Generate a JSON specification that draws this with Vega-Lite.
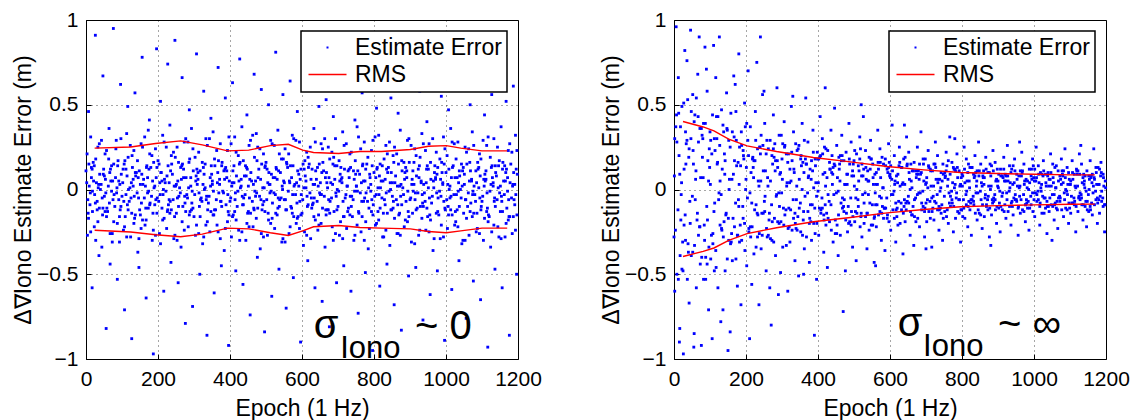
{
"$schema": "https://vega.github.io/schema/vega-lite/v6.json",
"background": "white",
"padding": {"left": 12, "top": 8, "right": 2, "bottom": 0},
"spacing": 58,
"config": {
  "font": "Liberation Sans",
  "view": {"stroke": "black", "strokeWidth": 1},
  "axis": {"labelFont": "Liberation Sans", "labelFontSize": 21, "labelColor": "black", "labelFlush": false, "labelOverlap": false, "titleFont": "Liberation Sans", "titleFontSize": 23, "titleFontWeight": "normal", "titleColor": "black", "domain": false, "ticks": true, "tickColor": "black", "tickSize": -5, "tickWidth": 1, "grid": true, "gridColor": "#000000", "gridDash": [1, 4], "gridWidth": 1, "gridOpacity": 0.7},
  "axisX": {"labelPadding": 14, "titlePadding": 8},
  "axisY": {"labelPadding": 13, "titlePadding": 1},
  "legend": {"strokeWidth": 1.5}
},
"datasets": {
"a": [
{"x":2,"y":0.04},{"x":5,"y":-0.06},{"x":8,"y":0.15},{"x":4,"y":-0.27},{"x":7,"y":0.46},
{"x":12,"y":-0.02},{"x":15,"y":0.07},{"x":18,"y":-0.13},{"x":13,"y":0.31},{"x":17,"y":-0.58},
{"x":21,"y":0.05},{"x":24,"y":-0.03},{"x":27,"y":0.18},{"x":23,"y":-0.22},{"x":26,"y":0.91},
{"x":31,"y":-0.07},{"x":34,"y":0.01},{"x":37,"y":-0.11},{"x":33,"y":0.25},{"x":36,"y":-0.39},
{"x":42,"y":0.03},{"x":45,"y":-0.05},{"x":48,"y":0.09},{"x":44,"y":-0.34},{"x":47,"y":0.67},
{"x":51,"y":-0.04},{"x":54,"y":0.06},{"x":57,"y":-0.16},{"x":53,"y":0.21},{"x":56,"y":-0.82},
{"x":62,"y":0.02},{"x":65,"y":-0.08},{"x":68,"y":0.12},{"x":64,"y":0.36},{"x":67,"y":-0.44},
{"x":71,"y":-0.01},{"x":74,"y":0.05},{"x":77,"y":-0.19},{"x":73,"y":-0.26},{"x":76,"y":0.95},
{"x":82,"y":0.07},{"x":85,"y":-0.02},{"x":88,"y":0.14},{"x":84,"y":0.29},{"x":87,"y":-0.53},
{"x":91,"y":-0.06},{"x":94,"y":0.03},{"x":97,"y":-0.1},{"x":93,"y":-0.31},{"x":96,"y":0.62},
{"x":102,"y":0.04},{"x":105,"y":-0.07},{"x":108,"y":0.17},{"x":104,"y":-0.24},{"x":107,"y":-0.71},
{"x":111,"y":-0.03},{"x":114,"y":0.08},{"x":117,"y":-0.12},{"x":113,"y":0.33},{"x":116,"y":0.49},
{"x":122,"y":0.01},{"x":125,"y":-0.05},{"x":128,"y":0.2},{"x":124,"y":-0.28},{"x":127,"y":-0.88},
{"x":131,"y":0.06},{"x":134,"y":-0.04},{"x":137,"y":-0.15},{"x":133,"y":0.23},{"x":136,"y":0.57},
{"x":142,"y":-0.02},{"x":145,"y":0.07},{"x":148,"y":0.11},{"x":144,"y":-0.37},{"x":147,"y":-0.46},
{"x":151,"y":0.03},{"x":154,"y":-0.08},{"x":157,"y":-0.18},{"x":153,"y":0.27},{"x":156,"y":0.78},
{"x":162,"y":-0.05},{"x":165,"y":0.02},{"x":168,"y":0.13},{"x":164,"y":-0.21},{"x":167,"y":-0.64},
{"x":171,"y":0.07},{"x":174,"y":-0.01},{"x":177,"y":-0.09},{"x":173,"y":0.35},{"x":176,"y":0.41},
{"x":182,"y":-0.04},{"x":185,"y":0.05},{"x":188,"y":0.16},{"x":184,"y":-0.3},{"x":187,"y":-0.97},
{"x":191,"y":0.02},{"x":194,"y":-0.06},{"x":197,"y":-0.14},{"x":193,"y":0.24},{"x":196,"y":0.83},
{"x":202,"y":-0.07},{"x":205,"y":0.04},{"x":208,"y":0.1},{"x":204,"y":-0.26},{"x":207,"y":0.52},
{"x":211,"y":0.05},{"x":214,"y":-0.03},{"x":217,"y":-0.17},{"x":213,"y":0.32},{"x":216,"y":-0.6},
{"x":222,"y":-0.01},{"x":225,"y":0.08},{"x":228,"y":0.14},{"x":224,"y":-0.23},{"x":227,"y":0.74},
{"x":231,"y":0.04},{"x":234,"y":-0.07},{"x":237,"y":-0.12},{"x":233,"y":0.38},{"x":236,"y":-0.43},
{"x":242,"y":-0.06},{"x":245,"y":0.02},{"x":248,"y":0.19},{"x":244,"y":-0.29},{"x":247,"y":0.88},
{"x":251,"y":0.03},{"x":254,"y":-0.05},{"x":257,"y":-0.1},{"x":253,"y":0.25},{"x":256,"y":-0.55},
{"x":262,"y":-0.02},{"x":265,"y":0.06},{"x":268,"y":0.15},{"x":264,"y":-0.34},{"x":267,"y":0.66},
{"x":271,"y":0.07},{"x":274,"y":-0.04},{"x":277,"y":-0.13},{"x":273,"y":0.28},{"x":276,"y":-0.79},
{"x":282,"y":-0.05},{"x":285,"y":0.01},{"x":288,"y":0.18},{"x":284,"y":-0.22},{"x":287,"y":0.47},
{"x":291,"y":0.02},{"x":294,"y":-0.08},{"x":297,"y":-0.11},{"x":293,"y":0.36},{"x":296,"y":-0.69},
{"x":302,"y":-0.03},{"x":305,"y":0.05},{"x":308,"y":0.12},{"x":304,"y":-0.27},{"x":307,"y":0.8},
{"x":311,"y":0.06},{"x":314,"y":-0.02},{"x":317,"y":-0.16},{"x":313,"y":0.22},{"x":316,"y":-0.5},
{"x":322,"y":-0.07},{"x":325,"y":0.03},{"x":328,"y":0.09},{"x":324,"y":-0.32},{"x":327,"y":0.58},
{"x":331,"y":0.01},{"x":334,"y":-0.06},{"x":337,"y":-0.19},{"x":333,"y":0.3},{"x":336,"y":-0.86},
{"x":342,"y":-0.04},{"x":345,"y":0.07},{"x":348,"y":0.14},{"x":344,"y":-0.25},{"x":347,"y":0.42},
{"x":351,"y":0.05},{"x":354,"y":-0.01},{"x":357,"y":-0.12},{"x":353,"y":0.34},{"x":356,"y":-0.61},
{"x":362,"y":-0.06},{"x":365,"y":0.04},{"x":368,"y":0.17},{"x":364,"y":-0.21},{"x":367,"y":0.72},
{"x":371,"y":0.03},{"x":374,"y":-0.07},{"x":377,"y":-0.1},{"x":373,"y":0.27},{"x":376,"y":-0.45},
{"x":382,"y":-0.02},{"x":385,"y":0.06},{"x":388,"y":0.13},{"x":384,"y":-0.36},{"x":387,"y":0.54},
{"x":391,"y":0.07},{"x":394,"y":-0.03},{"x":397,"y":-0.15},{"x":393,"y":0.23},{"x":396,"y":-0.92},
{"x":402,"y":-0.05},{"x":405,"y":0.02},{"x":408,"y":0.11},{"x":404,"y":-0.28},{"x":407,"y":0.63},
{"x":411,"y":0.04},{"x":414,"y":-0.06},{"x":417,"y":-0.18},{"x":413,"y":0.31},{"x":416,"y":-0.48},
{"x":422,"y":-0.01},{"x":425,"y":0.05},{"x":428,"y":0.16},{"x":424,"y":-0.24},{"x":427,"y":0.77},
{"x":431,"y":0.06},{"x":434,"y":-0.04},{"x":437,"y":-0.09},{"x":433,"y":0.37},{"x":436,"y":-0.56},
{"x":442,"y":-0.03},{"x":445,"y":0.08},{"x":448,"y":0.12},{"x":444,"y":-0.3},{"x":447,"y":0.44},
{"x":451,"y":0.02},{"x":454,"y":-0.05},{"x":457,"y":-0.14},{"x":453,"y":0.26},{"x":456,"y":-0.74},
{"x":462,"y":-0.07},{"x":465,"y":0.03},{"x":468,"y":0.19},{"x":464,"y":-0.22},{"x":467,"y":0.68},
{"x":471,"y":0.05},{"x":474,"y":-0.02},{"x":477,"y":-0.11},{"x":473,"y":0.33},{"x":476,"y":-0.4},
{"x":482,"y":-0.04},{"x":485,"y":0.06},{"x":488,"y":0.15},{"x":484,"y":-0.35},{"x":487,"y":0.59},
{"x":491,"y":0.01},{"x":494,"y":-0.07},{"x":497,"y":-0.13},{"x":493,"y":0.21},{"x":496,"y":-0.84},
{"x":502,"y":-0.06},{"x":505,"y":0.04},{"x":508,"y":0.1},{"x":504,"y":-0.27},{"x":507,"y":0.5},
{"x":511,"y":0.03},{"x":514,"y":-0.01},{"x":517,"y":-0.17},{"x":513,"y":0.29},{"x":516,"y":-0.63},
{"x":522,"y":-0.02},{"x":525,"y":0.07},{"x":528,"y":0.13},{"x":524,"y":-0.23},{"x":527,"y":0.81},
{"x":531,"y":0.06},{"x":534,"y":-0.05},{"x":537,"y":-0.1},{"x":533,"y":0.35},{"x":536,"y":-0.47},
{"x":542,"y":-0.05},{"x":545,"y":0.02},{"x":548,"y":0.18},{"x":544,"y":-0.31},{"x":547,"y":0.56},
{"x":551,"y":0.04},{"x":554,"y":-0.06},{"x":557,"y":-0.12},{"x":553,"y":0.24},{"x":556,"y":-0.7},
{"x":562,"y":-0.01},{"x":565,"y":0.05},{"x":568,"y":0.14},{"x":564,"y":-0.26},{"x":567,"y":0.64},
{"x":571,"y":0.07},{"x":574,"y":-0.03},{"x":577,"y":-0.16},{"x":573,"y":0.32},{"x":576,"y":-0.52},
{"x":582,"y":-0.03},{"x":585,"y":0.04},{"x":588,"y":0.11},{"x":584,"y":-0.2},{"x":587,"y":0.46},
{"x":591,"y":0.02},{"x":594,"y":-0.07},{"x":597,"y":-0.15},{"x":593,"y":0.28},{"x":596,"y":-0.9},
{"x":602,"y":-0.06},{"x":605,"y":0.01},{"x":608,"y":0.17},{"x":604,"y":-0.33},{"x":607,"y":0.6},
{"x":611,"y":0.05},{"x":614,"y":-0.04},{"x":617,"y":-0.09},{"x":613,"y":0.22},{"x":616,"y":-0.42},
{"x":622,"y":-0.02},{"x":625,"y":0.06},{"x":628,"y":0.12},{"x":624,"y":-0.29},{"x":627,"y":0.75},
{"x":631,"y":0.03},{"x":634,"y":-0.05},{"x":637,"y":-0.18},{"x":633,"y":0.36},{"x":636,"y":-0.58},
{"x":642,"y":-0.07},{"x":645,"y":0.02},{"x":648,"y":0.15},{"x":644,"y":-0.24},{"x":647,"y":0.49},
{"x":651,"y":0.04},{"x":654,"y":-0.03},{"x":657,"y":-0.11},{"x":653,"y":0.27},{"x":656,"y":-0.66},
{"x":662,"y":-0.04},{"x":665,"y":0.07},{"x":668,"y":0.1},{"x":664,"y":-0.34},{"x":667,"y":0.53},
{"x":671,"y":0.01},{"x":674,"y":-0.06},{"x":677,"y":-0.14},{"x":673,"y":0.25},{"x":676,"y":-0.81},
{"x":682,"y":-0.05},{"x":685,"y":0.03},{"x":688,"y":0.19},{"x":684,"y":-0.22},{"x":687,"y":0.43},
{"x":691,"y":0.06},{"x":694,"y":-0.02},{"x":697,"y":-0.12},{"x":693,"y":0.3},{"x":696,"y":-0.55},
{"x":702,"y":-0.01},{"x":705,"y":0.05},{"x":708,"y":0.13},{"x":704,"y":-0.27},{"x":707,"y":0.69},
{"x":711,"y":0.04},{"x":714,"y":-0.07},{"x":717,"y":-0.16},{"x":713,"y":0.34},{"x":716,"y":-0.45},
{"x":722,"y":-0.03},{"x":725,"y":0.02},{"x":728,"y":0.11},{"x":724,"y":-0.23},{"x":727,"y":0.87},
{"x":731,"y":0.07},{"x":734,"y":-0.04},{"x":737,"y":-0.1},{"x":733,"y":0.21},{"x":736,"y":-0.6},
{"x":742,"y":-0.06},{"x":745,"y":0.06},{"x":748,"y":0.17},{"x":744,"y":-0.3},{"x":747,"y":0.41},
{"x":751,"y":0.02},{"x":754,"y":-0.01},{"x":757,"y":-0.13},{"x":753,"y":0.37},{"x":756,"y":-0.73},
{"x":762,"y":-0.02},{"x":765,"y":0.04},{"x":768,"y":0.14},{"x":764,"y":-0.25},{"x":767,"y":0.57},
{"x":771,"y":0.05},{"x":774,"y":-0.05},{"x":777,"y":-0.19},{"x":773,"y":0.28},{"x":776,"y":-0.49},
{"x":782,"y":-0.07},{"x":785,"y":0.01},{"x":788,"y":0.09},{"x":784,"y":-0.35},{"x":787,"y":0.62},
{"x":791,"y":0.03},{"x":794,"y":-0.06},{"x":797,"y":-0.15},{"x":793,"y":0.23},{"x":796,"y":-0.95},
{"x":802,"y":-0.04},{"x":805,"y":0.07},{"x":808,"y":0.12},{"x":804,"y":-0.21},{"x":807,"y":0.48},
{"x":811,"y":0.01},{"x":814,"y":-0.03},{"x":817,"y":-0.11},{"x":813,"y":0.32},{"x":816,"y":-0.57},
{"x":822,"y":-0.05},{"x":825,"y":0.05},{"x":828,"y":0.18},{"x":824,"y":-0.28},{"x":827,"y":0.79},
{"x":831,"y":0.06},{"x":834,"y":-0.02},{"x":837,"y":-0.14},{"x":833,"y":0.26},{"x":836,"y":-0.44},
{"x":842,"y":-0.01},{"x":845,"y":0.04},{"x":848,"y":0.1},{"x":844,"y":-0.33},{"x":847,"y":0.54},
{"x":851,"y":0.04},{"x":854,"y":-0.07},{"x":857,"y":-0.17},{"x":853,"y":0.2},{"x":856,"y":-0.68},
{"x":862,"y":-0.06},{"x":865,"y":0.02},{"x":868,"y":0.15},{"x":864,"y":-0.26},{"x":867,"y":0.45},
{"x":871,"y":0.02},{"x":874,"y":-0.04},{"x":877,"y":-0.09},{"x":873,"y":0.35},{"x":876,"y":-0.83},
{"x":882,"y":-0.03},{"x":885,"y":0.06},{"x":888,"y":0.13},{"x":884,"y":-0.22},{"x":887,"y":0.6},
{"x":891,"y":0.07},{"x":894,"y":-0.01},{"x":897,"y":-0.16},{"x":893,"y":0.29},{"x":896,"y":-0.51},
{"x":902,"y":-0.05},{"x":905,"y":0.03},{"x":908,"y":0.11},{"x":904,"y":-0.31},{"x":907,"y":0.72},
{"x":911,"y":0.03},{"x":914,"y":-0.06},{"x":917,"y":-0.12},{"x":913,"y":0.24},{"x":916,"y":-0.46},
{"x":922,"y":-0.02},{"x":925,"y":0.07},{"x":928,"y":0.19},{"x":924,"y":-0.27},{"x":927,"y":0.58},
{"x":931,"y":0.05},{"x":934,"y":-0.03},{"x":937,"y":-0.1},{"x":933,"y":0.33},{"x":936,"y":-0.77},
{"x":942,"y":-0.07},{"x":945,"y":0.04},{"x":948,"y":0.14},{"x":944,"y":-0.24},{"x":947,"y":0.4},
{"x":951,"y":0.01},{"x":954,"y":-0.05},{"x":957,"y":-0.18},{"x":953,"y":0.27},{"x":956,"y":-0.62},
{"x":962,"y":-0.04},{"x":965,"y":0.05},{"x":968,"y":0.1},{"x":964,"y":-0.36},{"x":967,"y":0.85},
{"x":971,"y":0.06},{"x":974,"y":-0.02},{"x":977,"y":-0.13},{"x":973,"y":0.22},{"x":976,"y":-0.48},
{"x":982,"y":-0.01},{"x":985,"y":0.06},{"x":988,"y":0.16},{"x":984,"y":-0.29},{"x":987,"y":0.55},
{"x":991,"y":0.04},{"x":994,"y":-0.07},{"x":997,"y":-0.11},{"x":993,"y":0.31},{"x":996,"y":-0.89},
{"x":1002,"y":-0.06},{"x":1005,"y":0.03},{"x":1008,"y":0.12},{"x":1004,"y":-0.23},{"x":1007,"y":0.47},
{"x":1011,"y":0.02},{"x":1014,"y":-0.04},{"x":1017,"y":-0.15},{"x":1013,"y":0.36},{"x":1016,"y":-0.59},
{"x":1022,"y":-0.03},{"x":1025,"y":0.07},{"x":1028,"y":0.18},{"x":1024,"y":-0.21},{"x":1027,"y":0.7},
{"x":1031,"y":0.07},{"x":1034,"y":-0.01},{"x":1037,"y":-0.1},{"x":1033,"y":0.28},{"x":1036,"y":-0.42},
{"x":1042,"y":-0.05},{"x":1045,"y":0.02},{"x":1048,"y":0.13},{"x":1044,"y":-0.32},{"x":1047,"y":0.63},
{"x":1051,"y":0.03},{"x":1054,"y":-0.06},{"x":1057,"y":-0.17},{"x":1053,"y":0.25},{"x":1056,"y":-0.76},
{"x":1062,"y":-0.02},{"x":1065,"y":0.05},{"x":1068,"y":0.11},{"x":1064,"y":-0.27},{"x":1067,"y":0.5},
{"x":1071,"y":0.05},{"x":1074,"y":-0.03},{"x":1077,"y":-0.14},{"x":1073,"y":0.34},{"x":1076,"y":-0.54},
{"x":1082,"y":-0.07},{"x":1085,"y":0.04},{"x":1088,"y":0.16},{"x":1084,"y":-0.25},{"x":1087,"y":0.8},
{"x":1091,"y":0.01},{"x":1094,"y":-0.05},{"x":1097,"y":-0.12},{"x":1093,"y":0.21},{"x":1096,"y":-0.65},
{"x":1102,"y":-0.04},{"x":1105,"y":0.06},{"x":1108,"y":0.09},{"x":1104,"y":-0.3},{"x":1107,"y":0.44},
{"x":1111,"y":0.06},{"x":1114,"y":-0.02},{"x":1117,"y":-0.19},{"x":1113,"y":0.26},{"x":1116,"y":-0.93},
{"x":1122,"y":-0.01},{"x":1125,"y":0.03},{"x":1128,"y":0.14},{"x":1124,"y":-0.34},{"x":1127,"y":0.56},
{"x":1131,"y":0.04},{"x":1134,"y":-0.07},{"x":1137,"y":-0.1},{"x":1133,"y":0.3},{"x":1136,"y":-0.47},
{"x":1142,"y":-0.06},{"x":1145,"y":0.01},{"x":1148,"y":0.17},{"x":1144,"y":-0.22},{"x":1147,"y":0.67},
{"x":1151,"y":0.02},{"x":1154,"y":-0.04},{"x":1157,"y":-0.13},{"x":1153,"y":0.37},{"x":1156,"y":-0.58},
{"x":1162,"y":-0.03},{"x":1165,"y":0.05},{"x":1168,"y":0.12},{"x":1164,"y":-0.28},{"x":1167,"y":0.52},
{"x":1171,"y":0.07},{"x":1174,"y":-0.06},{"x":1177,"y":-0.16},{"x":1173,"y":0.23},{"x":1176,"y":-0.86},
{"x":1182,"y":-0.05},{"x":1185,"y":0.02},{"x":1188,"y":0.1},{"x":1184,"y":-0.26},{"x":1187,"y":0.61},
{"x":1191,"y":0.03},{"x":1194,"y":-0.03},{"x":1197,"y":-0.15},{"x":1193,"y":0.32},{"x":1196,"y":-0.5},
{"x":0,"y":0.11},{"x":6,"y":-0.14},{"x":9,"y":0.02},{"x":11,"y":-0.09},{"x":15,"y":0.13},{"x":18,"y":-0.01},
{"x":20,"y":0.16},{"x":26,"y":-0.08},{"x":29,"y":0.04},{"x":31,"y":-0.12},{"x":35,"y":0.03},{"x":38,"y":0.09},
{"x":40,"y":0.0},{"x":46,"y":-0.15},{"x":49,"y":0.12},{"x":51,"y":0.08},{"x":55,"y":-0.02},{"x":58,"y":-0.11},
{"x":60,"y":-0.13},{"x":66,"y":0.1},{"x":69,"y":0.05},{"x":71,"y":0.14},{"x":75,"y":-0.06},{"x":78,"y":-0.03},
{"x":80,"y":-0.1},{"x":86,"y":0.01},{"x":89,"y":0.17},{"x":91,"y":0.05},{"x":95,"y":-0.12},{"x":98,"y":0.09},
{"x":100,"y":-0.04},{"x":106,"y":0.15},{"x":109,"y":-0.16},{"x":111,"y":0.12},{"x":115,"y":-0.09},{"x":118,"y":0.0},
{"x":120,"y":-0.07},{"x":126,"y":0.04},{"x":129,"y":0.13},{"x":131,"y":0.02},{"x":135,"y":-0.17},{"x":138,"y":0.08},
{"x":140,"y":0.1},{"x":146,"y":-0.05},{"x":149,"y":-0.12},{"x":151,"y":-0.15},{"x":155,"y":0.09},{"x":158,"y":0.03},
{"x":160,"y":0.06},{"x":166,"y":-0.11},{"x":169,"y":0.14},{"x":171,"y":-0.02},{"x":175,"y":0.12},{"x":178,"y":-0.08},
{"x":180,"y":0.13},{"x":186,"y":-0.14},{"x":189,"y":0.01},{"x":191,"y":-0.09},{"x":195,"y":0.07},{"x":198,"y":-0.05},
{"x":200,"y":0.17},{"x":206,"y":-0.03},{"x":209,"y":0.1},{"x":211,"y":-0.11},{"x":215,"y":0.0},{"x":218,"y":0.06},
{"x":220,"y":0.04},{"x":226,"y":-0.13},{"x":229,"y":-0.09},{"x":231,"y":-0.06},{"x":235,"y":0.11},{"x":238,"y":0.15},
{"x":240,"y":0.09},{"x":246,"y":-0.16},{"x":249,"y":0.02},{"x":251,"y":-0.14},{"x":255,"y":0.05},{"x":258,"y":-0.04},
{"x":260,"y":0.01},{"x":266,"y":0.14},{"x":269,"y":-0.1},{"x":271,"y":0.12},{"x":275,"y":-0.08},{"x":278,"y":0.07},
{"x":280,"y":-0.03},{"x":286,"y":0.16},{"x":289,"y":-0.13},{"x":291,"y":0.07},{"x":295,"y":-0.01},{"x":298,"y":0.11},
{"x":300,"y":-0.16},{"x":306,"y":0.08},{"x":309,"y":0.03},{"x":311,"y":0.1},{"x":315,"y":-0.1},{"x":318,"y":-0.06},
{"x":320,"y":-0.05},{"x":326,"y":0.13},{"x":329,"y":0.0},{"x":331,"y":0.15},{"x":335,"y":-0.04},{"x":338,"y":-0.12},
{"x":340,"y":-0.08},{"x":346,"y":0.02},{"x":349,"y":0.09},{"x":351,"y":0.03},{"x":355,"y":-0.15},{"x":358,"y":0.14},
{"x":360,"y":-0.12},{"x":366,"y":0.1},{"x":369,"y":-0.02},{"x":371,"y":0.06},{"x":375,"y":-0.07},{"x":378,"y":0.16},
{"x":380,"y":-0.01},{"x":386,"y":0.12},{"x":389,"y":-0.09},{"x":391,"y":0.11},{"x":395,"y":-0.13},{"x":398,"y":0.05},
{"x":400,"y":-0.07},{"x":406,"y":0.04},{"x":409,"y":-0.15},{"x":411,"y":0.14},{"x":415,"y":-0.02},{"x":418,"y":0.08},
{"x":420,"y":-0.1},{"x":426,"y":0.15},{"x":429,"y":0.01},{"x":431,"y":0.02},{"x":435,"y":-0.09},{"x":438,"y":-0.05},
{"x":440,"y":0.08},{"x":446,"y":0.13},{"x":449,"y":-0.14},{"x":451,"y":-0.13},{"x":455,"y":0.06},{"x":458,"y":0.1},
{"x":460,"y":0.05},{"x":466,"y":-0.11},{"x":469,"y":-0.01},{"x":471,"y":-0.04},{"x":475,"y":0.17},{"x":478,"y":0.07},
{"x":480,"y":0.12},{"x":486,"y":-0.06},{"x":489,"y":-0.12},{"x":491,"y":-0.09},{"x":495,"y":0.01},{"x":498,"y":0.14},
{"x":500,"y":0.16},{"x":506,"y":-0.14},{"x":509,"y":0.03},{"x":511,"y":-0.02},{"x":515,"y":0.09},{"x":518,"y":-0.08},
{"x":520,"y":0.07},{"x":526,"y":-0.03},{"x":529,"y":0.12},{"x":531,"y":-0.15},{"x":535,"y":0.11},{"x":538,"y":-0.06},
{"x":540,"y":0.1},{"x":546,"y":0.0},{"x":549,"y":0.05},{"x":551,"y":-0.06},{"x":555,"y":-0.12},{"x":558,"y":0.15},
{"x":560,"y":0.13},{"x":566,"y":0.04},{"x":569,"y":-0.1},{"x":571,"y":-0.11},{"x":575,"y":0.14},{"x":578,"y":0.02},
{"x":580,"y":0.03},{"x":586,"y":-0.08},{"x":589,"y":-0.16},{"x":591,"y":0.09},{"x":595,"y":0.06},{"x":598,"y":-0.03},
{"x":600,"y":-0.14},{"x":606,"y":0.12},{"x":609,"y":0.08},{"x":611,"y":0.01},{"x":615,"y":-0.1},{"x":618,"y":0.13},
{"x":620,"y":0.15},{"x":626,"y":-0.05},{"x":629,"y":-0.09},{"x":631,"y":-0.08},{"x":635,"y":0.03},{"x":638,"y":0.11},
{"x":640,"y":0.06},{"x":646,"y":-0.15},{"x":649,"y":-0.02},{"x":651,"y":-0.03},{"x":655,"y":0.1},{"x":658,"y":0.16},
{"x":660,"y":0.11},{"x":666,"y":-0.12},{"x":669,"y":0.04},{"x":671,"y":-0.12},{"x":675,"y":0.07},{"x":678,"y":-0.07},
{"x":680,"y":0.04},{"x":686,"y":0.15},{"x":689,"y":-0.13},{"x":691,"y":0.14},{"x":695,"y":-0.04},{"x":698,"y":0.0},
{"x":700,"y":-0.1},{"x":706,"y":0.09},{"x":709,"y":0.06},{"x":711,"y":0.07},{"x":715,"y":-0.16},{"x":718,"y":0.12},
{"x":720,"y":-0.05},{"x":726,"y":0.02},{"x":729,"y":-0.11},{"x":731,"y":0.12},{"x":735,"y":0.13},{"x":738,"y":-0.04},
{"x":740,"y":-0.16},{"x":746,"y":-0.01},{"x":749,"y":0.09},{"x":751,"y":0.02},{"x":755,"y":0.11},{"x":758,"y":-0.14},
{"x":760,"y":0.09},{"x":766,"y":-0.07},{"x":769,"y":0.15},{"x":771,"y":-0.07},{"x":775,"y":0.05},{"x":778,"y":-0.02},
{"x":780,"y":0.15},{"x":786,"y":-0.11},{"x":789,"y":0.07},{"x":791,"y":-0.01},{"x":795,"y":0.14},{"x":798,"y":-0.09},
{"x":800,"y":0.1},{"x":806,"y":-0.03},{"x":809,"y":0.13},{"x":811,"y":-0.13},{"x":815,"y":0.08},{"x":818,"y":0.01},
{"x":820,"y":0.05},{"x":826,"y":-0.14},{"x":829,"y":-0.06},{"x":831,"y":-0.09},{"x":835,"y":0.12},{"x":838,"y":0.1},
{"x":840,"y":0.13},{"x":846,"y":0.0},{"x":849,"y":-0.12},{"x":851,"y":-0.04},{"x":855,"y":0.16},{"x":858,"y":0.04},
{"x":860,"y":0.08},{"x":866,"y":-0.09},{"x":869,"y":-0.15},{"x":871,"y":-0.14},{"x":875,"y":0.03},{"x":878,"y":0.11},
{"x":880,"y":0.01},{"x":886,"y":0.1},{"x":889,"y":-0.07},{"x":891,"y":0.11},{"x":895,"y":-0.13},{"x":898,"y":0.16},
{"x":900,"y":-0.06},{"x":906,"y":0.06},{"x":909,"y":-0.01},{"x":911,"y":0.16},{"x":915,"y":-0.02},{"x":918,"y":0.08},
{"x":920,"y":-0.11},{"x":926,"y":0.14},{"x":929,"y":-0.1},{"x":931,"y":0.04},{"x":935,"y":-0.08},{"x":938,"y":0.03},
{"x":940,"y":-0.02},{"x":946,"y":0.12},{"x":949,"y":-0.16},{"x":951,"y":0.12},{"x":955,"y":-0.15},{"x":958,"y":0.06},
{"x":960,"y":-0.08},{"x":966,"y":0.01},{"x":969,"y":0.14},{"x":971,"y":0.07},{"x":975,"y":0.09},{"x":978,"y":-0.05},
{"x":980,"y":-0.15},{"x":986,"y":-0.04},{"x":989,"y":0.1},{"x":991,"y":0.03},{"x":995,"y":0.15},{"x":998,"y":-0.12},
{"x":1000,"y":0.1},{"x":1006,"y":-0.1},{"x":1009,"y":0.0},{"x":1011,"y":-0.05},{"x":1015,"y":0.07},{"x":1018,"y":0.13},
{"x":1020,"y":0.14},{"x":1026,"y":-0.13},{"x":1029,"y":-0.03},{"x":1031,"y":-0.12},{"x":1035,"y":0.04},{"x":1038,"y":0.08},
{"x":1040,"y":0.0},{"x":1046,"y":0.11},{"x":1049,"y":-0.14},{"x":1051,"y":0.09},{"x":1055,"y":-0.06},{"x":1058,"y":0.15},
{"x":1060,"y":-0.1},{"x":1066,"y":0.16},{"x":1069,"y":-0.08},{"x":1071,"y":0.06},{"x":1075,"y":-0.01},{"x":1078,"y":0.02},
{"x":1080,"y":-0.03},{"x":1086,"y":-0.14},{"x":1089,"y":0.12},{"x":1091,"y":0.13},{"x":1095,"y":0.08},{"x":1098,"y":-0.1},
{"x":1100,"y":-0.07},{"x":1106,"y":0.02},{"x":1109,"y":0.05},{"x":1111,"y":0.11},{"x":1115,"y":-0.11},{"x":1118,"y":-0.15},
{"x":1120,"y":-0.16},{"x":1126,"y":0.13},{"x":1129,"y":0.07},{"x":1131,"y":0.02},{"x":1135,"y":-0.05},{"x":1138,"y":0.1},
{"x":1140,"y":0.08},{"x":1146,"y":0.14},{"x":1149,"y":-0.02},{"x":1151,"y":-0.13},{"x":1155,"y":-0.07},{"x":1158,"y":0.16},
{"x":1160,"y":0.05},{"x":1166,"y":0.1},{"x":1169,"y":-0.11},{"x":1171,"y":-0.01},{"x":1175,"y":-0.16},{"x":1178,"y":0.04},
{"x":1180,"y":0.15},{"x":1186,"y":0.03},{"x":1189,"y":-0.06},{"x":1191,"y":-0.09},{"x":1195,"y":0.12},{"x":1198,"y":0.09},
{"x":3,"y":0.21},{"x":7,"y":-0.17},{"x":13,"y":-0.25},{"x":17,"y":0.12},{"x":23,"y":0.14},{"x":27,"y":-0.3},{"x":33,"y":-0.19},{"x":37,"y":0.27},
{"x":43,"y":0.29},{"x":47,"y":-0.11},{"x":53,"y":-0.13},{"x":57,"y":0.23},{"x":63,"y":0.18},{"x":67,"y":-0.26},{"x":73,"y":-0.31},{"x":77,"y":0.15},
{"x":83,"y":0.24},{"x":87,"y":-0.2},{"x":93,"y":-0.16},{"x":97,"y":0.3},{"x":103,"y":0.12},{"x":107,"y":-0.22},{"x":113,"y":-0.28},{"x":117,"y":0.19},
{"x":123,"y":0.26},{"x":127,"y":-0.14},{"x":133,"y":-0.2},{"x":137,"y":0.1},{"x":143,"y":0.17},{"x":147,"y":-0.29},{"x":153,"y":-0.23},{"x":157,"y":0.25},
{"x":163,"y":0.31},{"x":167,"y":-0.18},{"x":173,"y":-0.11},{"x":177,"y":0.21},{"x":183,"y":0.2},{"x":187,"y":-0.24},{"x":193,"y":-0.27},{"x":197,"y":0.13},
{"x":203,"y":0.15},{"x":207,"y":-0.32},{"x":213,"y":-0.18},{"x":217,"y":0.28},{"x":223,"y":0.25},{"x":227,"y":-0.12},{"x":233,"y":-0.14},{"x":237,"y":0.2},
{"x":243,"y":0.22},{"x":247,"y":-0.27},{"x":253,"y":-0.3},{"x":257,"y":0.16},{"x":263,"y":0.13},{"x":267,"y":-0.19},{"x":273,"y":-0.24},{"x":277,"y":0.3},
{"x":283,"y":0.28},{"x":287,"y":-0.15},{"x":293,"y":-0.12},{"x":297,"y":0.24},{"x":303,"y":0.19},{"x":307,"y":-0.21},{"x":313,"y":-0.26},{"x":317,"y":0.11},
{"x":323,"y":0.16},{"x":327,"y":-0.28},{"x":333,"y":-0.21},{"x":337,"y":0.26},{"x":343,"y":0.3},{"x":347,"y":-0.13},{"x":353,"y":-0.15},{"x":357,"y":0.18},
{"x":363,"y":0.23},{"x":367,"y":-0.25},{"x":373,"y":-0.29},{"x":377,"y":0.14},{"x":383,"y":0.11},{"x":387,"y":-0.23},{"x":393,"y":-0.19},{"x":397,"y":0.31},
{"x":403,"y":0.27},{"x":407,"y":-0.16},{"x":413,"y":-0.13},{"x":417,"y":0.22},{"x":423,"y":0.2},{"x":427,"y":-0.3},{"x":433,"y":-0.25},{"x":437,"y":0.17},
{"x":443,"y":0.14},{"x":447,"y":-0.2},{"x":453,"y":-0.22},{"x":457,"y":0.29},{"x":463,"y":0.32},{"x":467,"y":-0.12},{"x":473,"y":-0.17},{"x":477,"y":0.25},
{"x":483,"y":0.24},{"x":487,"y":-0.26},{"x":493,"y":-0.28},{"x":497,"y":0.13},{"x":503,"y":0.12},{"x":507,"y":-0.18},{"x":513,"y":-0.2},{"x":517,"y":0.27},
{"x":523,"y":0.26},{"x":527,"y":-0.14},{"x":533,"y":-0.11},{"x":537,"y":0.21},{"x":543,"y":0.18},{"x":547,"y":-0.29},{"x":553,"y":-0.31},{"x":557,"y":0.16},
{"x":563,"y":0.21},{"x":567,"y":-0.22},{"x":573,"y":-0.14},{"x":577,"y":0.3},{"x":583,"y":0.29},{"x":587,"y":-0.17},{"x":593,"y":-0.23},{"x":597,"y":0.12},
{"x":603,"y":0.15},{"x":607,"y":-0.25},{"x":613,"y":-0.27},{"x":617,"y":0.19},{"x":623,"y":0.25},{"x":627,"y":-0.11},{"x":633,"y":-0.16},{"x":637,"y":0.28},
{"x":643,"y":0.13},{"x":647,"y":-0.21},{"x":653,"y":-0.2},{"x":657,"y":0.24},{"x":663,"y":0.3},{"x":667,"y":-0.15},{"x":673,"y":-0.12},{"x":677,"y":0.18},
{"x":683,"y":0.22},{"x":687,"y":-0.3},{"x":693,"y":-0.26},{"x":697,"y":0.14},{"x":703,"y":0.17},{"x":707,"y":-0.19},{"x":713,"y":-0.29},{"x":717,"y":0.26},
{"x":723,"y":0.27},{"x":727,"y":-0.13},{"x":733,"y":-0.15},{"x":737,"y":0.22},{"x":743,"y":0.11},{"x":747,"y":-0.27},{"x":753,"y":-0.21},{"x":757,"y":0.31},
{"x":763,"y":0.24},{"x":767,"y":-0.16},{"x":773,"y":-0.3},{"x":777,"y":0.12},{"x":783,"y":0.19},{"x":787,"y":-0.23},{"x":793,"y":-0.13},{"x":797,"y":0.29},
{"x":803,"y":0.31},{"x":807,"y":-0.2},{"x":813,"y":-0.18},{"x":817,"y":0.15},{"x":823,"y":0.14},{"x":827,"y":-0.28},{"x":833,"y":-0.24},{"x":837,"y":0.21},
{"x":843,"y":0.28},{"x":847,"y":-0.12},{"x":853,"y":-0.11},{"x":857,"y":0.25},{"x":863,"y":0.21},{"x":867,"y":-0.26},{"x":873,"y":-0.27},{"x":877,"y":0.17},
{"x":883,"y":0.16},{"x":887,"y":-0.18},{"x":893,"y":-0.19},{"x":897,"y":0.3},{"x":903,"y":0.26},{"x":907,"y":-0.14},{"x":913,"y":-0.32},{"x":917,"y":0.2},
{"x":923,"y":0.12},{"x":927,"y":-0.24},{"x":933,"y":-0.17},{"x":937,"y":0.27},{"x":943,"y":0.23},{"x":947,"y":-0.11},{"x":953,"y":-0.25},{"x":957,"y":0.16},
{"x":963,"y":0.3},{"x":967,"y":-0.29},{"x":973,"y":-0.14},{"x":977,"y":0.13},{"x":983,"y":0.18},{"x":987,"y":-0.21},{"x":993,"y":-0.28},{"x":997,"y":0.24},
{"x":1003,"y":0.2},{"x":1007,"y":-0.15},{"x":1013,"y":-0.12},{"x":1017,"y":0.28},{"x":1023,"y":0.27},{"x":1027,"y":-0.19},{"x":1033,"y":-0.22},{"x":1037,"y":0.11},
{"x":1043,"y":0.15},{"x":1047,"y":-0.3},{"x":1053,"y":-0.3},{"x":1057,"y":0.22},{"x":1063,"y":0.24},{"x":1067,"y":-0.13},{"x":1073,"y":-0.16},{"x":1077,"y":0.26},
{"x":1083,"y":0.11},{"x":1087,"y":-0.23},{"x":1093,"y":-0.26},{"x":1097,"y":0.18},{"x":1103,"y":0.29},{"x":1107,"y":-0.17},{"x":1113,"y":-0.13},{"x":1117,"y":0.31},
{"x":1123,"y":0.19},{"x":1127,"y":-0.25},{"x":1133,"y":-0.21},{"x":1137,"y":0.14},{"x":1143,"y":0.25},{"x":1147,"y":-0.28},{"x":1153,"y":-0.29},{"x":1157,"y":0.12},
{"x":1163,"y":0.14},{"x":1167,"y":-0.2},{"x":1173,"y":-0.18},{"x":1177,"y":0.27},{"x":1183,"y":0.22},{"x":1187,"y":-0.16},{"x":1193,"y":-0.24},{"x":1197,"y":0.23}
],
"b": [
{"x":1,"y":0.08},{"x":4,"y":-0.24},{"x":7,"y":0.44},{"x":2,"y":-0.6},{"x":6,"y":0.96},
{"x":11,"y":-0.12},{"x":14,"y":0.2},{"x":17,"y":-0.39},{"x":12,"y":0.66},{"x":16,"y":-0.82},
{"x":21,"y":0.04},{"x":24,"y":-0.31},{"x":27,"y":0.51},{"x":22,"y":-0.47},{"x":26,"y":-0.97},
{"x":31,"y":-0.15},{"x":34,"y":0.27},{"x":37,"y":-0.53},{"x":32,"y":0.34},{"x":36,"y":0.76},
{"x":41,"y":0.19},{"x":44,"y":-0.07},{"x":47,"y":0.3},{"x":42,"y":-0.67},{"x":46,"y":0.94},
{"x":51,"y":-0.04},{"x":54,"y":0.15},{"x":57,"y":-0.33},{"x":52,"y":0.56},{"x":56,"y":-0.85},
{"x":61,"y":0.11},{"x":64,"y":-0.18},{"x":67,"y":0.43},{"x":62,"y":-0.58},{"x":66,"y":0.68},
{"x":71,"y":-0.22},{"x":74,"y":0.07},{"x":77,"y":-0.4},{"x":72,"y":0.36},{"x":76,"y":-0.92},
{"x":81,"y":0.07},{"x":84,"y":-0.21},{"x":87,"y":0.39},{"x":82,"y":-0.53},{"x":86,"y":0.84},
{"x":91,"y":-0.1},{"x":94,"y":0.17},{"x":97,"y":-0.34},{"x":92,"y":0.58},{"x":96,"y":-0.71},
{"x":101,"y":0.03},{"x":104,"y":-0.27},{"x":107,"y":0.44},{"x":102,"y":-0.41},{"x":106,"y":-0.88},
{"x":111,"y":-0.13},{"x":114,"y":0.23},{"x":117,"y":-0.46},{"x":112,"y":0.3},{"x":116,"y":0.66},
{"x":121,"y":0.16},{"x":124,"y":-0.06},{"x":127,"y":0.26},{"x":122,"y":-0.58},{"x":126,"y":0.9},
{"x":131,"y":-0.03},{"x":134,"y":0.12},{"x":137,"y":-0.28},{"x":132,"y":0.47},{"x":136,"y":-0.71},
{"x":141,"y":0.09},{"x":144,"y":-0.15},{"x":147,"y":0.36},{"x":142,"y":-0.48},{"x":146,"y":0.57},
{"x":151,"y":-0.17},{"x":154,"y":0.06},{"x":157,"y":-0.32},{"x":152,"y":0.29},{"x":156,"y":-0.84},
{"x":161,"y":0.06},{"x":164,"y":-0.17},{"x":167,"y":0.31},{"x":162,"y":-0.42},{"x":166,"y":0.67},
{"x":171,"y":-0.08},{"x":174,"y":0.14},{"x":177,"y":-0.27},{"x":172,"y":0.46},{"x":176,"y":-0.57},
{"x":181,"y":0.03},{"x":184,"y":-0.21},{"x":187,"y":0.34},{"x":182,"y":-0.31},{"x":186,"y":-0.68},
{"x":191,"y":-0.1},{"x":194,"y":0.18},{"x":197,"y":-0.36},{"x":192,"y":0.23},{"x":196,"y":0.51},
{"x":201,"y":0.13},{"x":204,"y":-0.05},{"x":207,"y":0.2},{"x":202,"y":-0.45},{"x":206,"y":0.7},
{"x":211,"y":-0.02},{"x":214,"y":0.1},{"x":217,"y":-0.22},{"x":212,"y":0.37},{"x":216,"y":-0.56},
{"x":221,"y":0.07},{"x":224,"y":-0.12},{"x":227,"y":0.29},{"x":222,"y":-0.38},{"x":226,"y":0.46},
{"x":231,"y":-0.14},{"x":234,"y":0.05},{"x":237,"y":-0.26},{"x":232,"y":0.24},{"x":236,"y":-0.68},
{"x":241,"y":0.05},{"x":244,"y":-0.14},{"x":247,"y":0.26},{"x":242,"y":-0.35},{"x":246,"y":0.56},
{"x":251,"y":-0.07},{"x":254,"y":0.11},{"x":257,"y":-0.23},{"x":252,"y":0.39},{"x":256,"y":-0.48},
{"x":261,"y":0.02},{"x":264,"y":-0.18},{"x":267,"y":0.29},{"x":262,"y":-0.27},{"x":266,"y":-0.58},
{"x":271,"y":-0.09},{"x":274,"y":0.15},{"x":277,"y":-0.31},{"x":272,"y":0.2},{"x":276,"y":0.44},
{"x":281,"y":0.11},{"x":284,"y":-0.04},{"x":287,"y":0.17},{"x":282,"y":-0.39},{"x":286,"y":0.6},
{"x":291,"y":-0.02},{"x":294,"y":0.09},{"x":297,"y":-0.19},{"x":292,"y":0.32},{"x":296,"y":-0.49},
{"x":301,"y":0.06},{"x":304,"y":-0.11},{"x":307,"y":0.25},{"x":302,"y":-0.34},{"x":306,"y":0.4},
{"x":311,"y":-0.12},{"x":314,"y":0.04},{"x":317,"y":-0.23},{"x":312,"y":0.21},{"x":316,"y":-0.6},
{"x":321,"y":0.04},{"x":324,"y":-0.12},{"x":327,"y":0.22},{"x":322,"y":-0.31},{"x":326,"y":0.49},
{"x":331,"y":-0.06},{"x":334,"y":0.1},{"x":337,"y":-0.2},{"x":332,"y":0.34},{"x":336,"y":-0.42},
{"x":341,"y":0.02},{"x":344,"y":-0.16},{"x":347,"y":0.26},{"x":342,"y":-0.24},{"x":346,"y":-0.51},
{"x":351,"y":-0.08},{"x":354,"y":0.14},{"x":357,"y":-0.27},{"x":352,"y":0.18},{"x":356,"y":0.39},
{"x":361,"y":0.1},{"x":364,"y":-0.04},{"x":367,"y":0.15},{"x":362,"y":-0.35},{"x":366,"y":0.54},
{"x":371,"y":-0.02},{"x":374,"y":0.08},{"x":377,"y":-0.17},{"x":372,"y":0.28},{"x":376,"y":-0.43},
{"x":381,"y":0.06},{"x":384,"y":-0.09},{"x":387,"y":0.22},{"x":382,"y":-0.3},{"x":386,"y":0.35},
{"x":391,"y":-0.11},{"x":394,"y":0.04},{"x":397,"y":-0.2},{"x":392,"y":0.18},{"x":396,"y":-0.53},
{"x":401,"y":0.04},{"x":404,"y":-0.11},{"x":407,"y":0.2},{"x":402,"y":-0.27},{"x":406,"y":0.43},
{"x":411,"y":-0.05},{"x":414,"y":0.09},{"x":417,"y":-0.18},{"x":412,"y":0.3},{"x":416,"y":-0.37},
{"x":421,"y":0.02},{"x":424,"y":-0.14},{"x":427,"y":0.23},{"x":422,"y":-0.21},{"x":426,"y":-0.46},
{"x":431,"y":-0.07},{"x":434,"y":0.12},{"x":437,"y":-0.24},{"x":432,"y":0.16},{"x":436,"y":0.35},
{"x":441,"y":0.09},{"x":444,"y":-0.03},{"x":447,"y":0.14},{"x":442,"y":-0.31},{"x":446,"y":0.48},
{"x":451,"y":-0.02},{"x":454,"y":0.07},{"x":457,"y":-0.15},{"x":452,"y":0.26},{"x":456,"y":-0.39},
{"x":461,"y":0.05},{"x":464,"y":-0.08},{"x":467,"y":0.2},{"x":462,"y":-0.27},{"x":466,"y":0.32},
{"x":471,"y":-0.1},{"x":474,"y":0.03},{"x":477,"y":-0.18},{"x":472,"y":0.17},{"x":476,"y":-0.48},
{"x":481,"y":0.03},{"x":484,"y":-0.1},{"x":487,"y":0.18},{"x":482,"y":-0.25},{"x":486,"y":0.39},
{"x":491,"y":-0.05},{"x":494,"y":0.08},{"x":497,"y":-0.16},{"x":492,"y":0.28},{"x":496,"y":-0.34},
{"x":501,"y":0.02},{"x":504,"y":-0.13},{"x":507,"y":0.21},{"x":502,"y":-0.19},{"x":506,"y":-0.42},
{"x":511,"y":-0.06},{"x":514,"y":0.11},{"x":517,"y":-0.22},{"x":512,"y":0.14},{"x":516,"y":0.31},
{"x":521,"y":0.08},{"x":524,"y":-0.03},{"x":527,"y":0.12},{"x":522,"y":-0.28},{"x":526,"y":0.43},
{"x":531,"y":-0.02},{"x":534,"y":0.06},{"x":537,"y":-0.14},{"x":532,"y":0.23},{"x":536,"y":-0.35},
{"x":541,"y":0.05},{"x":544,"y":-0.08},{"x":547,"y":0.18},{"x":542,"y":-0.24},{"x":546,"y":0.29},
{"x":551,"y":-0.09},{"x":554,"y":0.03},{"x":557,"y":-0.16},{"x":552,"y":0.15},{"x":556,"y":-0.43},
{"x":561,"y":0.03},{"x":564,"y":-0.09},{"x":567,"y":0.16},{"x":562,"y":-0.22},{"x":566,"y":0.35},
{"x":571,"y":-0.04},{"x":574,"y":0.07},{"x":577,"y":-0.14},{"x":572,"y":0.24},{"x":576,"y":-0.3},
{"x":581,"y":0.01},{"x":584,"y":-0.11},{"x":587,"y":0.18},{"x":582,"y":-0.17},{"x":586,"y":-0.36},
{"x":591,"y":-0.05},{"x":594,"y":0.1},{"x":597,"y":-0.19},{"x":592,"y":0.12},{"x":596,"y":0.27},
{"x":601,"y":0.07},{"x":604,"y":-0.03},{"x":607,"y":0.11},{"x":602,"y":-0.24},{"x":606,"y":0.38},
{"x":611,"y":-0.01},{"x":614,"y":0.05},{"x":617,"y":-0.12},{"x":612,"y":0.2},{"x":616,"y":-0.31},
{"x":621,"y":0.04},{"x":624,"y":-0.07},{"x":627,"y":0.16},{"x":622,"y":-0.21},{"x":626,"y":0.25},
{"x":631,"y":-0.08},{"x":634,"y":0.03},{"x":637,"y":-0.14},{"x":632,"y":0.13},{"x":636,"y":-0.38},
{"x":641,"y":0.03},{"x":644,"y":-0.08},{"x":647,"y":0.14},{"x":642,"y":-0.19},{"x":646,"y":0.31},
{"x":651,"y":-0.04},{"x":654,"y":0.06},{"x":657,"y":-0.13},{"x":652,"y":0.22},{"x":656,"y":-0.27},
{"x":661,"y":0.01},{"x":664,"y":-0.1},{"x":667,"y":0.16},{"x":662,"y":-0.15},{"x":666,"y":-0.33},
{"x":671,"y":-0.05},{"x":674,"y":0.09},{"x":677,"y":-0.17},{"x":672,"y":0.11},{"x":676,"y":0.25},
{"x":681,"y":0.06},{"x":684,"y":-0.02},{"x":687,"y":0.1},{"x":682,"y":-0.22},{"x":686,"y":0.34},
{"x":691,"y":-0.01},{"x":694,"y":0.05},{"x":697,"y":-0.11},{"x":692,"y":0.18},{"x":696,"y":-0.28},
{"x":701,"y":0.04},{"x":704,"y":-0.06},{"x":707,"y":0.14},{"x":702,"y":-0.19},{"x":706,"y":0.23},
{"x":711,"y":-0.07},{"x":714,"y":0.02},{"x":717,"y":-0.13},{"x":712,"y":0.12},{"x":716,"y":-0.34},
{"x":721,"y":0.02},{"x":724,"y":-0.07},{"x":727,"y":0.13},{"x":722,"y":-0.18},{"x":726,"y":0.28},
{"x":731,"y":-0.03},{"x":734,"y":0.06},{"x":737,"y":-0.12},{"x":732,"y":0.2},{"x":736,"y":-0.24},
{"x":741,"y":0.01},{"x":744,"y":-0.09},{"x":747,"y":0.15},{"x":742,"y":-0.14},{"x":746,"y":-0.3},
{"x":751,"y":-0.04},{"x":754,"y":0.08},{"x":757,"y":-0.16},{"x":752,"y":0.1},{"x":756,"y":0.22},
{"x":761,"y":0.06},{"x":764,"y":-0.02},{"x":767,"y":0.09},{"x":762,"y":-0.2},{"x":766,"y":0.31},
{"x":771,"y":-0.01},{"x":774,"y":0.04},{"x":777,"y":-0.1},{"x":772,"y":0.16},{"x":776,"y":-0.25},
{"x":781,"y":0.03},{"x":784,"y":-0.05},{"x":787,"y":0.13},{"x":782,"y":-0.17},{"x":786,"y":0.21},
{"x":791,"y":-0.06},{"x":794,"y":0.02},{"x":797,"y":-0.12},{"x":792,"y":0.11},{"x":796,"y":-0.31},
{"x":801,"y":0.02},{"x":804,"y":-0.06},{"x":807,"y":0.12},{"x":802,"y":-0.16},{"x":806,"y":0.25},
{"x":811,"y":-0.03},{"x":814,"y":0.05},{"x":817,"y":-0.1},{"x":812,"y":0.18},{"x":816,"y":-0.22},
{"x":821,"y":0.01},{"x":824,"y":-0.08},{"x":827,"y":0.13},{"x":822,"y":-0.12},{"x":826,"y":-0.27},
{"x":831,"y":-0.04},{"x":834,"y":0.07},{"x":837,"y":-0.14},{"x":832,"y":0.09},{"x":836,"y":0.2},
{"x":841,"y":0.05},{"x":844,"y":-0.02},{"x":847,"y":0.08},{"x":842,"y":-0.18},{"x":846,"y":0.28},
{"x":851,"y":-0.01},{"x":854,"y":0.04},{"x":857,"y":-0.09},{"x":852,"y":0.15},{"x":856,"y":-0.23},
{"x":861,"y":0.03},{"x":864,"y":-0.05},{"x":867,"y":0.12},{"x":862,"y":-0.16},{"x":866,"y":0.19},
{"x":871,"y":-0.06},{"x":874,"y":0.02},{"x":877,"y":-0.11},{"x":872,"y":0.1},{"x":876,"y":-0.28},
{"x":881,"y":0.02},{"x":884,"y":-0.06},{"x":887,"y":0.11},{"x":882,"y":-0.15},{"x":886,"y":0.23},
{"x":891,"y":-0.03},{"x":894,"y":0.05},{"x":897,"y":-0.1},{"x":892,"y":0.16},{"x":896,"y":-0.2},
{"x":901,"y":0.01},{"x":904,"y":-0.08},{"x":907,"y":0.12},{"x":902,"y":-0.11},{"x":906,"y":-0.25},
{"x":911,"y":-0.04},{"x":914,"y":0.07},{"x":917,"y":-0.13},{"x":912,"y":0.08},{"x":916,"y":0.19},
{"x":921,"y":0.05},{"x":924,"y":-0.02},{"x":927,"y":0.08},{"x":922,"y":-0.17},{"x":926,"y":0.26},
{"x":931,"y":-0.01},{"x":934,"y":0.04},{"x":937,"y":-0.08},{"x":932,"y":0.14},{"x":936,"y":-0.21},
{"x":941,"y":0.03},{"x":944,"y":-0.05},{"x":947,"y":0.11},{"x":942,"y":-0.15},{"x":946,"y":0.18},
{"x":951,"y":-0.06},{"x":954,"y":0.02},{"x":957,"y":-0.1},{"x":952,"y":0.09},{"x":956,"y":-0.27},
{"x":961,"y":0.02},{"x":964,"y":-0.06},{"x":967,"y":0.1},{"x":962,"y":-0.14},{"x":966,"y":0.22},
{"x":971,"y":-0.03},{"x":974,"y":0.05},{"x":977,"y":-0.09},{"x":972,"y":0.15},{"x":976,"y":-0.19},
{"x":981,"y":0.01},{"x":984,"y":-0.07},{"x":987,"y":0.12},{"x":982,"y":-0.11},{"x":986,"y":-0.24},
{"x":991,"y":-0.04},{"x":994,"y":0.06},{"x":997,"y":-0.13},{"x":992,"y":0.08},{"x":996,"y":0.18},
{"x":1001,"y":0.05},{"x":1004,"y":-0.02},{"x":1007,"y":0.07},{"x":1002,"y":-0.16},{"x":1006,"y":0.25},
{"x":1011,"y":-0.01},{"x":1014,"y":0.04},{"x":1017,"y":-0.08},{"x":1012,"y":0.14},{"x":1016,"y":-0.21},
{"x":1021,"y":0.03},{"x":1024,"y":-0.04},{"x":1027,"y":0.11},{"x":1022,"y":-0.14},{"x":1026,"y":0.17},
{"x":1031,"y":-0.05},{"x":1034,"y":0.02},{"x":1037,"y":-0.1},{"x":1032,"y":0.09},{"x":1036,"y":-0.26},
{"x":1041,"y":0.02},{"x":1044,"y":-0.05},{"x":1047,"y":0.1},{"x":1042,"y":-0.13},{"x":1046,"y":0.21},
{"x":1051,"y":-0.03},{"x":1054,"y":0.04},{"x":1057,"y":-0.09},{"x":1052,"y":0.15},{"x":1056,"y":-0.18},
{"x":1061,"y":0.01},{"x":1064,"y":-0.07},{"x":1067,"y":0.11},{"x":1062,"y":-0.11},{"x":1066,"y":-0.23},
{"x":1071,"y":-0.04},{"x":1074,"y":0.06},{"x":1077,"y":-0.12},{"x":1072,"y":0.08},{"x":1076,"y":0.18},
{"x":1081,"y":0.04},{"x":1084,"y":-0.02},{"x":1087,"y":0.07},{"x":1082,"y":-0.16},{"x":1086,"y":0.24},
{"x":1091,"y":-0.01},{"x":1094,"y":0.03},{"x":1097,"y":-0.08},{"x":1092,"y":0.13},{"x":1096,"y":-0.2},
{"x":1101,"y":0.03},{"x":1104,"y":-0.04},{"x":1107,"y":0.1},{"x":1102,"y":-0.14},{"x":1106,"y":0.17},
{"x":1111,"y":-0.05},{"x":1114,"y":0.02},{"x":1117,"y":-0.1},{"x":1112,"y":0.09},{"x":1116,"y":-0.25},
{"x":1121,"y":0.02},{"x":1124,"y":-0.05},{"x":1127,"y":0.09},{"x":1122,"y":-0.13},{"x":1126,"y":0.21},
{"x":1131,"y":-0.03},{"x":1134,"y":0.04},{"x":1137,"y":-0.09},{"x":1132,"y":0.15},{"x":1136,"y":-0.18},
{"x":1141,"y":0.01},{"x":1144,"y":-0.07},{"x":1147,"y":0.11},{"x":1142,"y":-0.1},{"x":1146,"y":-0.22},
{"x":1151,"y":-0.03},{"x":1154,"y":0.06},{"x":1157,"y":-0.12},{"x":1152,"y":0.08},{"x":1156,"y":0.17},
{"x":1161,"y":0.04},{"x":1164,"y":-0.02},{"x":1167,"y":0.07},{"x":1162,"y":-0.15},{"x":1166,"y":0.24},
{"x":1171,"y":-0.01},{"x":1174,"y":0.03},{"x":1177,"y":-0.08},{"x":1172,"y":0.13},{"x":1176,"y":-0.2},
{"x":1181,"y":0.03},{"x":1184,"y":-0.04},{"x":1187,"y":0.1},{"x":1182,"y":-0.14},{"x":1186,"y":0.16},
{"x":1191,"y":-0.05},{"x":1194,"y":0.02},{"x":1197,"y":-0.09},{"x":1192,"y":0.09},{"x":1196,"y":-0.25},
{"x":30,"y":0.82},{"x":55,"y":-0.93},{"x":90,"y":0.71},{"x":130,"y":-0.78},{"x":170,"y":0.62},{"x":210,"y":-0.88},
{"x":250,"y":0.58},{"x":290,"y":-0.62},{"x":330,"y":0.55},{"x":360,"y":-0.5},{"x":420,"y":0.6},{"x":470,"y":-0.72},
{"x":520,"y":0.5},{"x":560,"y":-0.45},{"x":640,"y":0.38},{"x":700,"y":-0.35},{"x":780,"y":0.3},{"x":880,"y":-0.33},
{"x":960,"y":0.28},{"x":1050,"y":-0.3},{"x":1130,"y":0.26},{"x":15,"y":-0.9},{"x":70,"y":0.9},{"x":110,"y":0.85},
{"x":230,"y":0.75},{"x":150,"y":-0.95},{"x":180,"y":0.8},{"x":240,"y":0.9},{"x":270,"y":-0.8},{"x":390,"y":-0.86},
{"x":0,"y":-0.28},{"x":5,"y":0.37},{"x":8,"y":0.28},{"x":13,"y":0.45},{"x":16,"y":0.09},{"x":19,"y":-0.18},
{"x":20,"y":-0.03},{"x":25,"y":-0.48},{"x":28,"y":0.12},{"x":33,"y":0.15},{"x":36,"y":0.29},{"x":39,"y":-0.32},
{"x":40,"y":-0.37},{"x":45,"y":-0.2},{"x":48,"y":0.46},{"x":53,"y":0.23},{"x":56,"y":0.4},{"x":59,"y":-0.06},
{"x":60,"y":0.06},{"x":65,"y":-0.14},{"x":68,"y":0.28},{"x":73,"y":-0.44},{"x":76,"y":0.36},{"x":79,"y":0.19},
{"x":80,"y":0.3},{"x":85,"y":-0.3},{"x":88,"y":-0.4},{"x":93,"y":-0.18},{"x":96,"y":0.05},{"x":99,"y":0.13},
{"x":100,"y":0.34},{"x":105,"y":0.21},{"x":108,"y":-0.26},{"x":113,"y":-0.08},{"x":116,"y":-0.36},{"x":119,"y":0.3},
{"x":120,"y":0.15},{"x":125,"y":-0.02},{"x":128,"y":0.05},{"x":133,"y":-0.24},{"x":136,"y":0.38},{"x":139,"y":-0.19},
{"x":140,"y":0.21},{"x":145,"y":-0.14},{"x":148,"y":0.35},{"x":153,"y":0.0},{"x":156,"y":0.25},{"x":159,"y":-0.31},
{"x":160,"y":-0.26},{"x":165,"y":0.09},{"x":168,"y":0.17},{"x":173,"y":0.29},{"x":176,"y":-0.27},{"x":179,"y":-0.06},
{"x":180,"y":-0.1},{"x":185,"y":0.14},{"x":188,"y":0.26},{"x":193,"y":0.2},{"x":196,"y":-0.2},{"x":199,"y":0.0},
{"x":200,"y":0.06},{"x":205,"y":0.29},{"x":208,"y":-0.23},{"x":213,"y":-0.28},{"x":216,"y":-0.08},{"x":219,"y":0.19},
{"x":220,"y":0.13},{"x":225,"y":0.17},{"x":228,"y":-0.09},{"x":233,"y":-0.15},{"x":236,"y":0.02},{"x":239,"y":0.25},
{"x":240,"y":0.21},{"x":245,"y":-0.27},{"x":248,"y":0.11},{"x":253,"y":-0.04},{"x":256,"y":0.21},{"x":259,"y":-0.28},
{"x":260,"y":0.07},{"x":265,"y":-0.14},{"x":268,"y":0.05},{"x":273,"y":-0.19},{"x":276,"y":0.24},{"x":279,"y":-0.17},
{"x":280,"y":0.27},{"x":285,"y":-0.03},{"x":288,"y":0.13},{"x":293,"y":-0.1},{"x":296,"y":0.1},{"x":299,"y":-0.02},
{"x":300,"y":0.18},{"x":305,"y":-0.21},{"x":308,"y":0.26},{"x":313,"y":0.02},{"x":316,"y":0.16},{"x":319,"y":-0.11},
{"x":320,"y":-0.22},{"x":325,"y":0.05},{"x":328,"y":0.17},{"x":333,"y":0.12},{"x":336,"y":-0.14},{"x":339,"y":-0.23},
{"x":340,"y":-0.06},{"x":345,"y":0.24},{"x":348,"y":0.06},{"x":353,"y":0.2},{"x":356,"y":0.0},{"x":359,"y":-0.18},
{"x":360,"y":-0.13},{"x":365,"y":0.18},{"x":368,"y":0.15},{"x":373,"y":0.07},{"x":376,"y":-0.2},{"x":379,"y":-0.09},
{"x":380,"y":-0.19},{"x":385,"y":0.11},{"x":388,"y":0.01},{"x":393,"y":0.14},{"x":396,"y":-0.04},{"x":399,"y":0.18},
{"x":400,"y":-0.01},{"x":405,"y":0.19},{"x":408,"y":-0.12},{"x":413,"y":0.21},{"x":416,"y":-0.15},{"x":419,"y":0.1},
{"x":420,"y":-0.09},{"x":425,"y":0.07},{"x":428,"y":-0.03},{"x":433,"y":0.12},{"x":436,"y":-0.09},{"x":439,"y":0.2},
{"x":440,"y":0.03},{"x":445,"y":0.15},{"x":448,"y":-0.18},{"x":453,"y":-0.21},{"x":456,"y":-0.01},{"x":459,"y":0.12},
{"x":460,"y":0.15},{"x":465,"y":0.17},{"x":468,"y":-0.05},{"x":473,"y":-0.06},{"x":476,"y":0.03},{"x":479,"y":-0.14},
{"x":480,"y":0.09},{"x":485,"y":-0.2},{"x":488,"y":0.15},{"x":493,"y":-0.13},{"x":496,"y":0.11},{"x":499,"y":0.08},
{"x":500,"y":0.17},{"x":505,"y":-0.05},{"x":508,"y":0.0},{"x":513,"y":0.05},{"x":516,"y":0.18},{"x":519,"y":-0.16},
{"x":520,"y":-0.14},{"x":525,"y":0.08},{"x":528,"y":-0.08},{"x":533,"y":0.13},{"x":536,"y":-0.14},{"x":539,"y":0.05},
{"x":540,"y":-0.03},{"x":545,"y":0.12},{"x":548,"y":0.18},{"x":553,"y":0.07},{"x":556,"y":-0.17},{"x":559,"y":-0.02},
{"x":560,"y":-0.09},{"x":565,"y":0.03},{"x":568,"y":0.12},{"x":573,"y":0.16},{"x":576,"y":-0.05},{"x":579,"y":-0.1},
{"x":580,"y":0.01},{"x":585,"y":-0.11},{"x":588,"y":0.14},{"x":593,"y":-0.15},{"x":596,"y":0.13},{"x":599,"y":0.08},
{"x":600,"y":0.09},{"x":605,"y":0.06},{"x":608,"y":-0.03},{"x":613,"y":0.03},{"x":616,"y":-0.08},{"x":619,"y":-0.16},
{"x":620,"y":-0.11},{"x":625,"y":0.14},{"x":628,"y":0.02},{"x":633,"y":0.13},{"x":636,"y":0.04},{"x":639,"y":-0.1},
{"x":640,"y":-0.06},{"x":645,"y":-0.12},{"x":648,"y":0.15},{"x":653,"y":0.1},{"x":656,"y":0.0},{"x":659,"y":0.05},
{"x":660,"y":-0.15},{"x":665,"y":0.11},{"x":668,"y":-0.06},{"x":673,"y":0.07},{"x":676,"y":-0.03},{"x":679,"y":0.11},
{"x":680,"y":-0.02},{"x":685,"y":0.09},{"x":688,"y":-0.08},{"x":693,"y":0.15},{"x":696,"y":-0.13},{"x":699,"y":0.03},
{"x":700,"y":-0.08},{"x":705,"y":0.01},{"x":708,"y":0.13},{"x":713,"y":0.11},{"x":716,"y":-0.05},{"x":719,"y":-0.11},
{"x":720,"y":-0.04},{"x":725,"y":0.15},{"x":728,"y":0.06},{"x":733,"y":0.04},{"x":736,"y":-0.1},{"x":739,"y":-0.01},
{"x":740,"y":-0.11},{"x":745,"y":0.05},{"x":748,"y":0.09},{"x":753,"y":0.07},{"x":756,"y":0.11},{"x":759,"y":-0.12},
{"x":760,"y":0.02},{"x":765,"y":-0.08},{"x":768,"y":-0.04},{"x":773,"y":-0.08},{"x":776,"y":0.13},{"x":779,"y":0.01},
{"x":780,"y":0.12},{"x":785,"y":-0.02},{"x":788,"y":0.07},{"x":793,"y":-0.06},{"x":796,"y":0.03},{"x":799,"y":-0.12},
{"x":800,"y":0.09},{"x":805,"y":-0.11},{"x":808,"y":0.04},{"x":813,"y":-0.01},{"x":816,"y":0.1},{"x":819,"y":-0.07},
{"x":820,"y":0.05},{"x":825,"y":-0.06},{"x":828,"y":0.13},{"x":833,"y":-0.09},{"x":836,"y":0.08},{"x":839,"y":-0.02},
{"x":840,"y":0.02},{"x":845,"y":-0.12},{"x":848,"y":0.11},{"x":853,"y":-0.06},{"x":856,"y":0.02},{"x":859,"y":0.07},
{"x":860,"y":0.11},{"x":865,"y":-0.03},{"x":868,"y":-0.09},{"x":873,"y":-0.04},{"x":876,"y":0.1},{"x":879,"y":0.0},
{"x":880,"y":0.08},{"x":885,"y":-0.08},{"x":888,"y":-0.05},{"x":893,"y":-0.12},{"x":896,"y":0.06},{"x":899,"y":0.02},
{"x":900,"y":0.05},{"x":905,"y":-0.01},{"x":908,"y":0.08},{"x":913,"y":-0.02},{"x":916,"y":0.12},{"x":919,"y":-0.09},
{"x":920,"y":0.09},{"x":925,"y":-0.06},{"x":928,"y":0.05},{"x":933,"y":0.01},{"x":936,"y":0.1},{"x":939,"y":-0.07},
{"x":940,"y":-0.1},{"x":945,"y":0.04},{"x":948,"y":-0.03},{"x":953,"y":0.06},{"x":956,"y":-0.11},{"x":959,"y":0.01},
{"x":960,"y":-0.04},{"x":965,"y":0.08},{"x":968,"y":0.11},{"x":973,"y":0.03},{"x":976,"y":-0.09},{"x":979,"y":-0.06},
{"x":980,"y":-0.08},{"x":985,"y":0.0},{"x":988,"y":0.04},{"x":993,"y":0.12},{"x":996,"y":-0.02},{"x":999,"y":0.07},
{"x":1000,"y":-0.06},{"x":1005,"y":0.05},{"x":1008,"y":-0.03},{"x":1013,"y":0.09},{"x":1016,"y":-0.1},{"x":1019,"y":0.01},
{"x":1020,"y":-0.01},{"x":1025,"y":0.08},{"x":1028,"y":-0.05},{"x":1033,"y":0.04},{"x":1036,"y":-0.07},{"x":1039,"y":0.1},
{"x":1040,"y":-0.1},{"x":1045,"y":0.06},{"x":1048,"y":0.02},{"x":1053,"y":0.07},{"x":1056,"y":-0.03},{"x":1059,"y":-0.08},
{"x":1060,"y":0.01},{"x":1065,"y":-0.12},{"x":1068,"y":0.05},{"x":1073,"y":-0.05},{"x":1076,"y":0.03},{"x":1079,"y":0.09},
{"x":1080,"y":0.08},{"x":1085,"y":-0.06},{"x":1088,"y":0.0},{"x":1093,"y":-0.03},{"x":1096,"y":0.1},{"x":1099,"y":-0.11},
{"x":1100,"y":0.03},{"x":1105,"y":-0.08},{"x":1108,"y":0.06},{"x":1113,"y":-0.07},{"x":1116,"y":0.01},{"x":1119,"y":0.11},
{"x":1120,"y":0.09},{"x":1125,"y":-0.04},{"x":1128,"y":-0.02},{"x":1133,"y":-0.09},{"x":1136,"y":0.07},{"x":1139,"y":0.03},
{"x":1140,"y":0.05},{"x":1145,"y":-0.01},{"x":1148,"y":-0.07},{"x":1153,"y":0.0},{"x":1156,"y":-0.1},{"x":1159,"y":0.08},
{"x":1160,"y":-0.08},{"x":1165,"y":0.02},{"x":1168,"y":0.06},{"x":1173,"y":0.1},{"x":1176,"y":-0.05},{"x":1179,"y":0.03},
{"x":1180,"y":-0.06},{"x":1185,"y":0.08},{"x":1188,"y":-0.01},{"x":1193,"y":0.07},{"x":1196,"y":-0.09},{"x":1199,"y":0.01},
{"x":2,"y":0.3},{"x":8,"y":-0.5},{"x":12,"y":-0.53},{"x":18,"y":0.37},{"x":22,"y":0.49},{"x":28,"y":-0.21},{"x":32,"y":-0.3},{"x":38,"y":0.53},
{"x":42,"y":0.24},{"x":48,"y":-0.39},{"x":52,"y":-0.37},{"x":58,"y":0.44},{"x":62,"y":0.54},{"x":68,"y":-0.27},{"x":72,"y":-0.22},{"x":78,"y":0.32},
{"x":82,"y":0.39},{"x":88,"y":-0.53},{"x":92,"y":-0.44},{"x":98,"y":0.24},{"x":102,"y":0.29},{"x":108,"y":-0.32},{"x":112,"y":-0.48},{"x":118,"y":0.43},
{"x":122,"y":0.43},{"x":128,"y":-0.21},{"x":132,"y":-0.23},{"x":138,"y":0.34},{"x":142,"y":0.17},{"x":148,"y":-0.41},{"x":152,"y":-0.3},{"x":158,"y":0.45},
{"x":162,"y":0.34},{"x":168,"y":-0.22},{"x":172,"y":-0.41},{"x":178,"y":0.16},{"x":182,"y":0.25},{"x":188,"y":-0.3},{"x":192,"y":-0.17},{"x":198,"y":0.37},
{"x":202,"y":0.39},{"x":208,"y":-0.25},{"x":212,"y":-0.22},{"x":218,"y":0.18},{"x":222,"y":0.17},{"x":228,"y":-0.34},{"x":232,"y":-0.28},{"x":238,"y":0.25},
{"x":242,"y":0.32},{"x":248,"y":-0.14},{"x":252,"y":-0.13},{"x":258,"y":0.29},{"x":262,"y":0.24},{"x":268,"y":-0.29},{"x":272,"y":-0.3},{"x":278,"y":0.19},
{"x":282,"y":0.17},{"x":288,"y":-0.19},{"x":292,"y":-0.2},{"x":298,"y":0.32},{"x":302,"y":0.27},{"x":308,"y":-0.15},{"x":312,"y":-0.33},{"x":318,"y":0.21},
{"x":322,"y":0.12},{"x":328,"y":-0.24},{"x":332,"y":-0.17},{"x":338,"y":0.27},{"x":342,"y":0.23},{"x":348,"y":-0.11},{"x":352,"y":-0.25},{"x":358,"y":0.16},
{"x":362,"y":0.29},{"x":368,"y":-0.28},{"x":372,"y":-0.13},{"x":378,"y":0.12},{"x":382,"y":0.17},{"x":388,"y":-0.2},{"x":392,"y":-0.26},{"x":398,"y":0.22},
{"x":402,"y":0.18},{"x":408,"y":-0.14},{"x":412,"y":-0.11},{"x":418,"y":0.25},{"x":422,"y":0.24},{"x":428,"y":-0.17},{"x":432,"y":-0.19},{"x":438,"y":0.1},
{"x":442,"y":0.13},{"x":448,"y":-0.26},{"x":452,"y":-0.26},{"x":458,"y":0.19},{"x":462,"y":0.2},{"x":468,"y":-0.11},{"x":472,"y":-0.13},{"x":478,"y":0.22},
{"x":482,"y":0.09},{"x":488,"y":-0.19},{"x":492,"y":-0.21},{"x":498,"y":0.15},{"x":502,"y":0.23},{"x":508,"y":-0.14},{"x":512,"y":-0.1},{"x":518,"y":0.24},
{"x":522,"y":0.15},{"x":528,"y":-0.2},{"x":532,"y":-0.16},{"x":538,"y":0.11},{"x":542,"y":0.19},{"x":548,"y":-0.21},{"x":552,"y":-0.21},{"x":558,"y":0.09},
{"x":562,"y":0.1},{"x":568,"y":-0.15},{"x":572,"y":-0.13},{"x":578,"y":0.19},{"x":582,"y":0.15},{"x":588,"y":-0.11},{"x":592,"y":-0.17},{"x":598,"y":0.16},
{"x":602,"y":0.14},{"x":608,"y":-0.12},{"x":612,"y":-0.17},{"x":618,"y":0.08},{"x":622,"y":0.09},{"x":628,"y":-0.2},{"x":632,"y":-0.12},{"x":638,"y":0.18},
{"x":642,"y":0.19},{"x":648,"y":-0.07},{"x":652,"y":-0.08},{"x":658,"y":0.15},{"x":662,"y":0.11},{"x":668,"y":-0.16},{"x":672,"y":-0.19},{"x":678,"y":0.09},
{"x":682,"y":0.15},{"x":688,"y":-0.12},{"x":692,"y":-0.1},{"x":698,"y":0.18},{"x":702,"y":0.07},{"x":708,"y":-0.13},{"x":712,"y":-0.17},{"x":718,"y":0.11},
{"x":722,"y":0.15},{"x":728,"y":-0.08},{"x":732,"y":-0.12},{"x":738,"y":0.06},{"x":742,"y":0.1},{"x":748,"y":-0.17},{"x":752,"y":-0.13},{"x":758,"y":0.14},
{"x":762,"y":0.17},{"x":768,"y":-0.1},{"x":772,"y":-0.06},{"x":778,"y":0.12},{"x":782,"y":0.11},{"x":788,"y":-0.13},{"x":792,"y":-0.14},{"x":798,"y":0.07},
{"x":802,"y":0.08},{"x":808,"y":-0.17},{"x":812,"y":-0.09},{"x":818,"y":0.15},{"x":822,"y":0.13},{"x":828,"y":-0.06},{"x":832,"y":-0.07},{"x":838,"y":0.1},
{"x":842,"y":0.11},{"x":848,"y":-0.14},{"x":852,"y":-0.15},{"x":858,"y":0.08},{"x":862,"y":0.07},{"x":868,"y":-0.1},{"x":872,"y":-0.12},{"x":878,"y":0.15},
{"x":882,"y":0.14},{"x":888,"y":-0.07},{"x":892,"y":-0.06},{"x":898,"y":0.12},{"x":902,"y":0.09},{"x":908,"y":-0.1},{"x":912,"y":-0.12},{"x":918,"y":0.05},
{"x":922,"y":0.08},{"x":928,"y":-0.13},{"x":932,"y":-0.1},{"x":938,"y":0.12},{"x":942,"y":0.14},{"x":948,"y":-0.06},{"x":952,"y":-0.07},{"x":958,"y":0.08},
{"x":962,"y":0.11},{"x":968,"y":-0.12},{"x":972,"y":-0.13},{"x":978,"y":0.06},{"x":982,"y":0.05},{"x":988,"y":-0.11},{"x":992,"y":-0.09},{"x":998,"y":0.14},
{"x":1002,"y":0.12},{"x":1008,"y":-0.07},{"x":1012,"y":-0.06},{"x":1018,"y":0.1},{"x":1022,"y":0.09},{"x":1028,"y":-0.14},{"x":1032,"y":-0.11},{"x":1038,"y":0.08},
{"x":1042,"y":0.06},{"x":1048,"y":-0.09},{"x":1052,"y":-0.1},{"x":1058,"y":0.13},{"x":1062,"y":0.14},{"x":1068,"y":-0.05},{"x":1072,"y":-0.07},{"x":1078,"y":0.11},
{"x":1082,"y":0.11},{"x":1088,"y":-0.11},{"x":1092,"y":-0.12},{"x":1098,"y":0.06},{"x":1102,"y":0.05},{"x":1108,"y":-0.08},{"x":1112,"y":-0.09},{"x":1118,"y":0.12},
{"x":1122,"y":0.11},{"x":1128,"y":-0.06},{"x":1132,"y":-0.05},{"x":1138,"y":0.09},{"x":1142,"y":0.08},{"x":1148,"y":-0.12},{"x":1152,"y":-0.13},{"x":1158,"y":0.07},
{"x":1162,"y":0.09},{"x":1168,"y":-0.09},{"x":1172,"y":-0.06},{"x":1178,"y":0.13},{"x":1182,"y":0.12},{"x":1188,"y":-0.07},{"x":1192,"y":-0.1},{"x":1198,"y":0.05}
],
"ra": [
{"x":24,"y":0.244,"side":"u"},{"x":124,"y":0.251,"side":"u"},{"x":193,"y":0.271,"side":"u"},{"x":263,"y":0.287,"side":"u"},{"x":323,"y":0.263,"side":"u"},{"x":393,"y":0.228,"side":"u"},{"x":452,"y":0.232,"side":"u"},{"x":512,"y":0.259,"side":"u"},{"x":562,"y":0.267,"side":"u"},{"x":602,"y":0.232,"side":"u"},{"x":632,"y":0.218,"side":"u"},{"x":702,"y":0.212,"side":"u"},{"x":761,"y":0.224,"side":"u"},{"x":821,"y":0.224,"side":"u"},{"x":901,"y":0.236,"side":"u"},{"x":951,"y":0.255,"side":"u"},{"x":1001,"y":0.259,"side":"u"},{"x":1041,"y":0.244,"side":"u"},{"x":1100,"y":0.228,"side":"u"},{"x":1170,"y":0.228,"side":"u"},
{"x":24,"y":-0.24,"side":"l"},{"x":124,"y":-0.251,"side":"l"},{"x":193,"y":-0.267,"side":"l"},{"x":263,"y":-0.279,"side":"l"},{"x":323,"y":-0.263,"side":"l"},{"x":393,"y":-0.228,"side":"l"},{"x":452,"y":-0.232,"side":"l"},{"x":512,"y":-0.255,"side":"l"},{"x":562,"y":-0.271,"side":"l"},{"x":602,"y":-0.244,"side":"l"},{"x":632,"y":-0.22,"side":"l"},{"x":702,"y":-0.212,"side":"l"},{"x":761,"y":-0.224,"side":"l"},{"x":821,"y":-0.228,"side":"l"},{"x":901,"y":-0.232,"side":"l"},{"x":951,"y":-0.248,"side":"l"},{"x":1001,"y":-0.255,"side":"l"},{"x":1041,"y":-0.244,"side":"l"},{"x":1100,"y":-0.228,"side":"l"},{"x":1170,"y":-0.228,"side":"l"}
],
"rb": [
{"x":25,"y":0.401,"side":"u"},{"x":81,"y":0.369,"side":"u"},{"x":111,"y":0.346,"side":"u"},{"x":152,"y":0.297,"side":"u"},{"x":203,"y":0.257,"side":"u"},{"x":285,"y":0.224,"side":"u"},{"x":387,"y":0.189,"side":"u"},{"x":490,"y":0.163,"side":"u"},{"x":592,"y":0.136,"side":"u"},{"x":694,"y":0.116,"side":"u"},{"x":796,"y":0.1,"side":"u"},{"x":898,"y":0.094,"side":"u"},{"x":1001,"y":0.09,"side":"u"},{"x":1103,"y":0.086,"side":"u"},{"x":1169,"y":0.086,"side":"u"},
{"x":25,"y":-0.395,"side":"l"},{"x":81,"y":-0.365,"side":"l"},{"x":111,"y":-0.345,"side":"l"},{"x":152,"y":-0.3,"side":"l"},{"x":203,"y":-0.26,"side":"l"},{"x":285,"y":-0.226,"side":"l"},{"x":387,"y":-0.19,"side":"l"},{"x":490,"y":-0.165,"side":"l"},{"x":592,"y":-0.138,"side":"l"},{"x":694,"y":-0.118,"side":"l"},{"x":796,"y":-0.102,"side":"l"},{"x":898,"y":-0.095,"side":"l"},{"x":1001,"y":-0.091,"side":"l"},{"x":1103,"y":-0.087,"side":"l"},{"x":1169,"y":-0.086,"side":"l"}
]
},
"resolve": {"scale": {"color": "independent", "shape": "independent"}, "legend": {"color": "independent", "shape": "independent"}},
"hconcat": [
{
  "width": 432, "height": 339,
  "layer": [
    {
      "data": {"name": "a"},
      "mark": {"type": "point", "filled": true, "size": 8, "opacity": 1, "strokeWidth": 0},
      "encoding": {
        "x": {"field": "x", "type": "quantitative", "scale": {"domain": [0, 1200], "nice": false, "zero": false}, "axis": {"title": "Epoch (1 Hz)", "values": [0, 200, 400, 600, 800, 1000, 1200], "format": "d"}},
        "y": {"field": "y", "type": "quantitative", "scale": {"domain": [-1, 1], "nice": false, "zero": false}, "axis": {"title": "Δ∇Iono Estimate Error (m)", "values": [-1, -0.5, 0, 0.5, 1], "format": "~g"}},
        "color": {"datum": "Estimate Error", "type": "nominal", "scale": {"domain": ["Estimate Error", "RMS"], "range": ["#0000ff", "#ff0000"]},
          "legend": {"title": null, "orient": "top-right", "offset": 11, "labelFont": "Liberation Sans", "labelFontSize": 23, "labelColor": "black", "strokeColor": "black", "fillColor": "white", "padding": 5, "symbolSize": 4, "symbolStrokeWidth": 0, "rowPadding": 3, "symbolOffset": 10, "labelOffset": 16}},
        "shape": {"datum": "Estimate Error", "type": "nominal", "scale": {"domain": ["Estimate Error", "RMS"], "range": ["square", "M-19,-0.75H19V0.75H-19Z"]},
          "legend": {"title": null, "orient": "top-right", "offset": 11, "labelFont": "Liberation Sans", "labelFontSize": 23, "labelColor": "black", "strokeColor": "black", "fillColor": "white", "padding": 5, "symbolSize": 4, "symbolStrokeWidth": 0, "rowPadding": 3, "symbolOffset": 10, "labelOffset": 16}}
      }
    },
    {
      "data": {"name": "ra"},
      "mark": {"type": "line", "strokeWidth": 1.4},
      "encoding": {
        "x": {"field": "x", "type": "quantitative"},
        "y": {"field": "y", "type": "quantitative"},
        "detail": {"field": "side"},
        "color": {"datum": "RMS", "type": "nominal"}
      }
    },
    {
      "data": {"values": [{}]},
      "mark": {"type": "text", "text": "σ", "fontSize": 40, "font": "Liberation Sans", "align": "center", "baseline": "alphabetic", "color": "black"},
      "encoding": {"x": {"datum": 667, "type": "quantitative"}, "y": {"datum": -0.876, "type": "quantitative"}}
    },
    {
      "data": {"values": [{}]},
      "mark": {"type": "text", "text": "Iono", "fontSize": 31, "font": "Liberation Sans", "align": "left", "baseline": "alphabetic", "color": "black"},
      "encoding": {"x": {"datum": 706, "type": "quantitative"}, "y": {"datum": -0.994, "type": "quantitative"}}
    },
    {
      "data": {"values": [{}]},
      "mark": {"type": "text", "text": "~ 0", "fontSize": 40, "font": "Liberation Sans", "align": "left", "baseline": "alphabetic", "color": "black"},
      "encoding": {"x": {"datum": 914, "type": "quantitative"}, "y": {"datum": -0.882, "type": "quantitative"}}
    }
  ]
},
{
  "width": 432, "height": 339,
  "layer": [
    {
      "data": {"name": "b"},
      "mark": {"type": "point", "filled": true, "size": 8, "opacity": 1, "strokeWidth": 0},
      "encoding": {
        "x": {"field": "x", "type": "quantitative", "scale": {"domain": [0, 1200], "nice": false, "zero": false}, "axis": {"title": "Epoch (1 Hz)", "values": [0, 200, 400, 600, 800, 1000, 1200], "format": "d"}},
        "y": {"field": "y", "type": "quantitative", "scale": {"domain": [-1, 1], "nice": false, "zero": false}, "axis": {"title": "Δ∇Iono Estimate Error (m)", "values": [-1, -0.5, 0, 0.5, 1], "format": "~g"}},
        "color": {"datum": "Estimate Error", "type": "nominal", "scale": {"domain": ["Estimate Error", "RMS"], "range": ["#0000ff", "#ff0000"]},
          "legend": {"title": null, "orient": "top-right", "offset": 11, "labelFont": "Liberation Sans", "labelFontSize": 23, "labelColor": "black", "strokeColor": "black", "fillColor": "white", "padding": 5, "symbolSize": 4, "symbolStrokeWidth": 0, "rowPadding": 3, "symbolOffset": 10, "labelOffset": 16}},
        "shape": {"datum": "Estimate Error", "type": "nominal", "scale": {"domain": ["Estimate Error", "RMS"], "range": ["square", "M-19,-0.75H19V0.75H-19Z"]},
          "legend": {"title": null, "orient": "top-right", "offset": 11, "labelFont": "Liberation Sans", "labelFontSize": 23, "labelColor": "black", "strokeColor": "black", "fillColor": "white", "padding": 5, "symbolSize": 4, "symbolStrokeWidth": 0, "rowPadding": 3, "symbolOffset": 10, "labelOffset": 16}}
      }
    },
    {
      "data": {"name": "rb"},
      "mark": {"type": "line", "strokeWidth": 1.4},
      "encoding": {
        "x": {"field": "x", "type": "quantitative"},
        "y": {"field": "y", "type": "quantitative"},
        "detail": {"field": "side"},
        "color": {"datum": "RMS", "type": "nominal"}
      }
    },
    {
      "data": {"values": [{}]},
      "mark": {"type": "text", "text": "σ", "fontSize": 40, "font": "Liberation Sans", "align": "center", "baseline": "alphabetic", "color": "black"},
      "encoding": {"x": {"datum": 656, "type": "quantitative"}, "y": {"datum": -0.864, "type": "quantitative"}}
    },
    {
      "data": {"values": [{}]},
      "mark": {"type": "text", "text": "Iono", "fontSize": 31, "font": "Liberation Sans", "align": "left", "baseline": "alphabetic", "color": "black"},
      "encoding": {"x": {"datum": 692, "type": "quantitative"}, "y": {"datum": -0.982, "type": "quantitative"}}
    },
    {
      "data": {"values": [{}]},
      "mark": {"type": "text", "text": "~ ∞", "fontSize": 40, "font": "Liberation Sans", "align": "left", "baseline": "alphabetic", "color": "black"},
      "encoding": {"x": {"datum": 900, "type": "quantitative"}, "y": {"datum": -0.873, "type": "quantitative"}}
    }
  ]
}
]
}
